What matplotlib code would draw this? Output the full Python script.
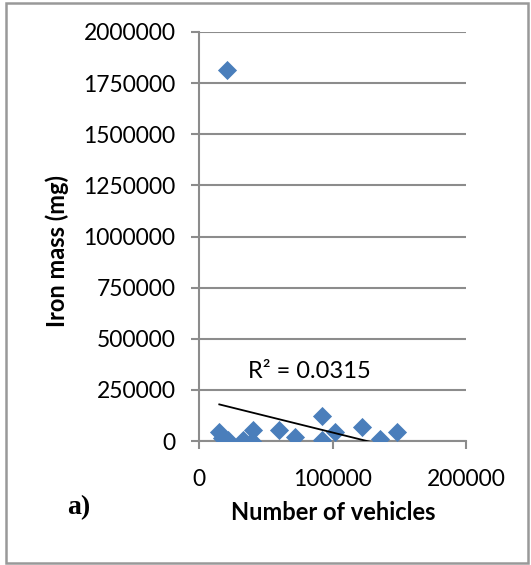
import numpy as np
import matplotlib.pyplot as plt
from matplotlib.patches import Rectangle
from matplotlib.ticker import FuncFormatter

# number of vehicles vs iron mass (mg)
vehicles = [15200, 17000, 22000, 33200, 40700, 39500, 60200, 71900,
            91900, 91900, 101900, 121900, 135600, 148500, 20700]
iron_mg = [45500, 13000, 5000, 5000, 54000, 2000, 54000, 21000,
           122000, 5000, 42000, 70000, 8000, 45000, 1814000]
x_ticks = [0, 100000, 200000]
y_ticks = [0, 250000, 500000, 750000, 1000000, 1250000, 1500000, 1750000, 2000000]
# linear trendline as shown in the chart
trend_slope = -1.62
trend_intercept = 203600
r2_text = "R² = 0.0315"

blue = "#4a7ebb"
grid_gray = "#8c8c8c"

fig = plt.figure(figsize=(5.31, 5.65), dpi=100)
ax = fig.add_axes([199 / 531, 1 - 441 / 565, 267 / 531, 409 / 565])

x = np.array(vehicles)
y = np.array(iron_mg)
ax.scatter(x, y, marker="D", s=95, color=blue, zorder=3, linewidths=0)

xl = np.array([x.min(), x.max()])
ax.plot(xl, trend_slope * xl + trend_intercept, color="black", lw=1.3, zorder=4)

ax.set_xlim(0, 200000)
ax.set_ylim(0, 2000000)
ax.set_xticks(x_ticks)
ax.set_yticks(y_ticks)
ax.xaxis.set_major_formatter(FuncFormatter(lambda v, p: f"{v:.0f}"))
ax.yaxis.set_major_formatter(FuncFormatter(lambda v, p: f"{v:.0f}"))
ax.grid(axis="y", color=grid_gray, lw=1.5)
ax.set_axisbelow(True)
for s in ["top", "right"]:
    ax.spines[s].set_visible(False)
for s in ["left", "bottom"]:
    ax.spines[s].set_color(grid_gray)
    ax.spines[s].set_linewidth(1.5)
ax.tick_params(axis="y", color=grid_gray, width=1.5, length=6,
               labelsize=16.5, pad=11)
ax.tick_params(axis="x", color=grid_gray, width=1.5, length=6,
               labelsize=16.5, pad=14)
for lab in ax.get_xticklabels() + ax.get_yticklabels():
    lab.set_family("Lato")

ax.text(83000, 340000, r2_text, fontsize=17, family="Lato",
        ha="center", va="center")

fig.text(57 / 531, 1 - 251 / 565, "Iron mass (mg)", rotation=90,
         ha="center", va="center", fontsize=17, fontweight="bold", family="Lato")
fig.text(333 / 531, 1 - 512 / 565, "Number of vehicles",
         ha="center", va="center", fontsize=17, fontweight="bold", family="Lato")
fig.text(79 / 531, 1 - 508 / 565, "a)", ha="center", va="center",
         fontsize=20, fontweight="bold", family="Liberation Serif")

fig.patches.append(Rectangle((6 / 531, 2 / 565), 522 / 531, 560 / 565,
                             transform=fig.transFigure, fill=False,
                             edgecolor="#999999", lw=1.8))

fig.savefig("out.png", dpi=100)
